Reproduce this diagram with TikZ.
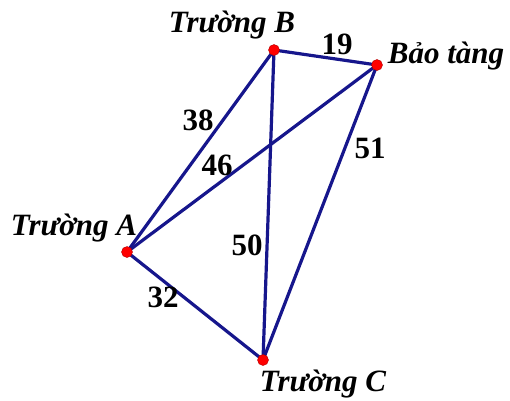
\documentclass[tikz,border=0pt]{standalone}
\usepackage{fontspec}
\setmainfont{Liberation Serif}
\usetikzlibrary{positioning,backgrounds}
\definecolor{edgeblue}{RGB}{22,22,140}
\tikzset{
  dot/.style={circle,fill=red,draw=red!70!black,inner sep=0pt,minimum size=11pt},
  road/.style={edgeblue,line width=3.2pt},
  place/.style={font=\fontsize{31}{34}\selectfont\bfseries\itshape,inner sep=0pt},
  dist/.style={font=\fontsize{31}{34}\selectfont\bfseries,inner sep=0pt}
}
\begin{document}
\begin{tikzpicture}[x=1pt,y=-1pt]
\useasboundingbox (0,0) rectangle (510,400);
\node[dot] (A) at (127,252) {};
\node[dot] (B) at (274,50) {};
\node[dot] (M) at (377,65) {};
\node[dot] (C) at (263,360) {};
\begin{scope}[on background layer]
\draw[road] (A.center) -- (B.center);
\draw[road] (A.center) -- (M.center);
\draw[road] (A.center) -- (C.center);
\draw[road] (B.center) -- (M.center);
\draw[road] (B.center) -- (C.center);
\draw[road] (M.center) -- (C.center);
\end{scope}
% names
\node[place] (lA) at (74,228) {Trường A};
\node[place] (lB) at (232,25) {Trường B};
\node[place] (lM) at (446,56) {Bảo tàng};
\node[place] (lC) at (323,384) {Trường C};
% distances
\node[dist] (dAB) at (198,120) {38};
\node[dist] (dAM) at (217,165) {46};
\node[dist] (dBM) at (337,44) {19};
\node[dist] (dMC) at (370,148) {51};
\node[dist] (dBC) at (247,245) {50};
\node[dist] (dAC) at (163,297) {32};
\end{tikzpicture}
\end{document}
